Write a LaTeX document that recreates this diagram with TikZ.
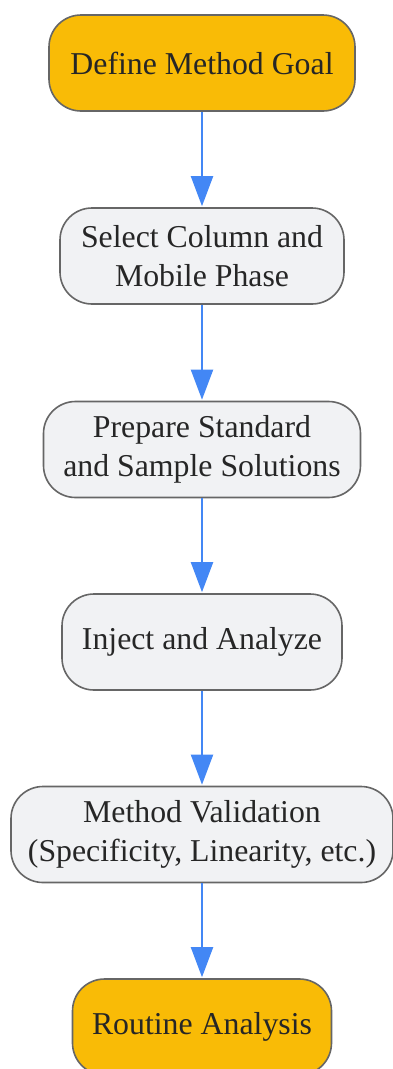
\documentclass[tikz,border=0pt]{standalone}
\usepackage{fontspec}
\setmainfont{Liberation Serif}
\usetikzlibrary{arrows.meta}
\definecolor{goalfill}{HTML}{F9BB06}
\definecolor{stepfill}{HTML}{F1F2F4}
\definecolor{stepline}{HTML}{666666}
\definecolor{flowblue}{HTML}{4387F5}
\tikzset{
  stepbox/.style={draw=stepline,line width=1.6pt,fill=stepfill,rounded corners=32pt,
    minimum height=96pt,align=center,text=black!85,
    font=\fontsize{31.8}{38.5}\selectfont},
  goalbox/.style={stepbox,fill=goalfill},
  flow/.style={draw=flowblue,line width=2pt,-{Triangle[length=30pt,width=22pt]},shorten >=1pt}
}
\begin{document}
\begin{tikzpicture}[x=1pt,y=-1pt]
\useasboundingbox (0,0) rectangle (393,1069);
\node[goalbox,minimum width=306pt] (goal) at (202,63) {Define Method Goal};
\node[stepbox,minimum width=284pt] (column) at (202,256) {Select Column and\\Mobile Phase};
\node[stepbox,minimum width=317pt] (prepare) at (202,449.5) {Prepare Standard\\and Sample Solutions};
\node[stepbox,minimum width=280pt] (inject) at (202,642) {Inject and Analyze};
\node[stepbox,minimum width=382pt] (valid) at (202,834.5) {Method Validation\\(Specificity, Linearity, etc.)};
\node[goalbox,minimum width=259pt] (routine) at (202,1027) {Routine Analysis};
% connectors
\draw[flow] (goal) -- (column);
\draw[flow] (column) -- (prepare);
\draw[flow] (prepare) -- (inject);
\draw[flow] (inject) -- (valid);
\draw[flow] (valid) -- (routine);
\end{tikzpicture}
\end{document}
